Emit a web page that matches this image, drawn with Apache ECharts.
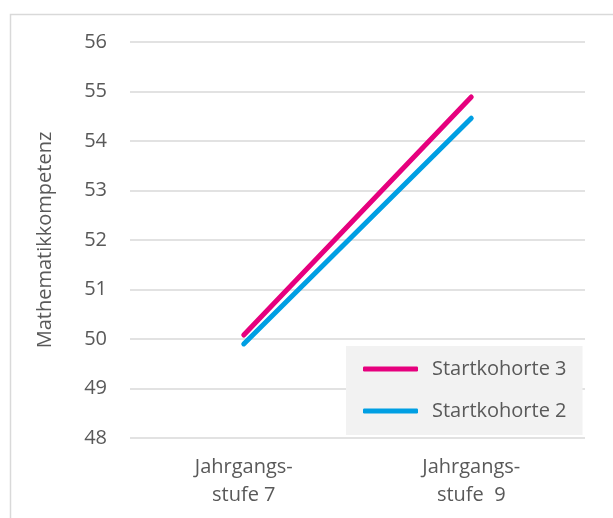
<!DOCTYPE html>
<html>
<head>
<meta charset="utf-8">
<script src="https://cdn.jsdelivr.net/npm/echarts@6/dist/echarts.min.js"></script>
<style>html,body{margin:0;padding:0;background:#fff;}#c{width:613px;height:518px;}</style>
</head>
<body>
<div id="c"></div>
<script>
const categories = ['Jahrgangs-\nstufe 7', 'Jahrgangs-\nstufe  9'];
const seriesNames = ['Startkohorte 3', 'Startkohorte 2'];
const startkohorte3 = [50.08, 54.89];
const startkohorte2 = [49.9, 54.46];
const yTicks = [48, 49, 50, 51, 52, 53, 54, 55, 56];

const FONT = '"Open Sans", sans-serif';
const chart = echarts.init(document.getElementById('c'), null, {renderer: 'canvas'});
chart.setOption({
  animation: false,
  backgroundColor: '#fff',
  graphic: [
    {type: 'polyline', shape: {points: [[10.5, 518], [10.5, 14.5], [613, 14.5]]},
     style: {stroke: '#d9d9d9', lineWidth: 1.5, fill: null}, silent: true}
  ],
  grid: {left: 130, right: 28, top: 42, bottom: 80, containLabel: false},
  legend: {
    orient: 'vertical',
    left: 346, top: 346,
    backgroundColor: '#f2f2f2',
    padding: [13, 16, 14, 17],
    itemGap: 22,
    itemWidth: 55, itemHeight: 5,
    icon: 'roundRect',
    textStyle: {fontFamily: FONT, fontSize: 20, color: '#595959', padding: [0, 0, 0, 9]},
    data: seriesNames
  },
  xAxis: {
    type: 'category',
    data: categories,
    boundaryGap: true,
    axisLine: {show: false},
    axisTick: {show: false},
    axisLabel: {fontFamily: FONT, fontSize: 20, color: '#595959', lineHeight: 28, margin: 15}
  },
  yAxis: {
    type: 'value',
    min: yTicks[0], max: yTicks[yTicks.length - 1], interval: 1,
    name: 'Mathematikkompetenz',
    nameLocation: 'middle',
    nameGap: 75,
    nameTextStyle: {fontFamily: FONT, fontSize: 20, color: '#595959'},
    axisLine: {show: false},
    axisTick: {show: false},
    splitLine: {lineStyle: {color: '#d9d9d9', width: 1.5}},
    axisLabel: {fontFamily: FONT, fontSize: 20, color: '#595959', margin: 23}
  },
  series: [
    {name: seriesNames[0], type: 'line', data: startkohorte3, showSymbol: false, symbol: 'none',
     lineStyle: {color: '#e6007e', width: 5, cap: 'round'}, itemStyle: {color: '#e6007e'}, z: 3},
    {name: seriesNames[1], type: 'line', data: startkohorte2, showSymbol: false, symbol: 'none',
     lineStyle: {color: '#009fe3', width: 5, cap: 'round'}, itemStyle: {color: '#009fe3'}, z: 2}
  ]
});
</script>
</body>
</html>
